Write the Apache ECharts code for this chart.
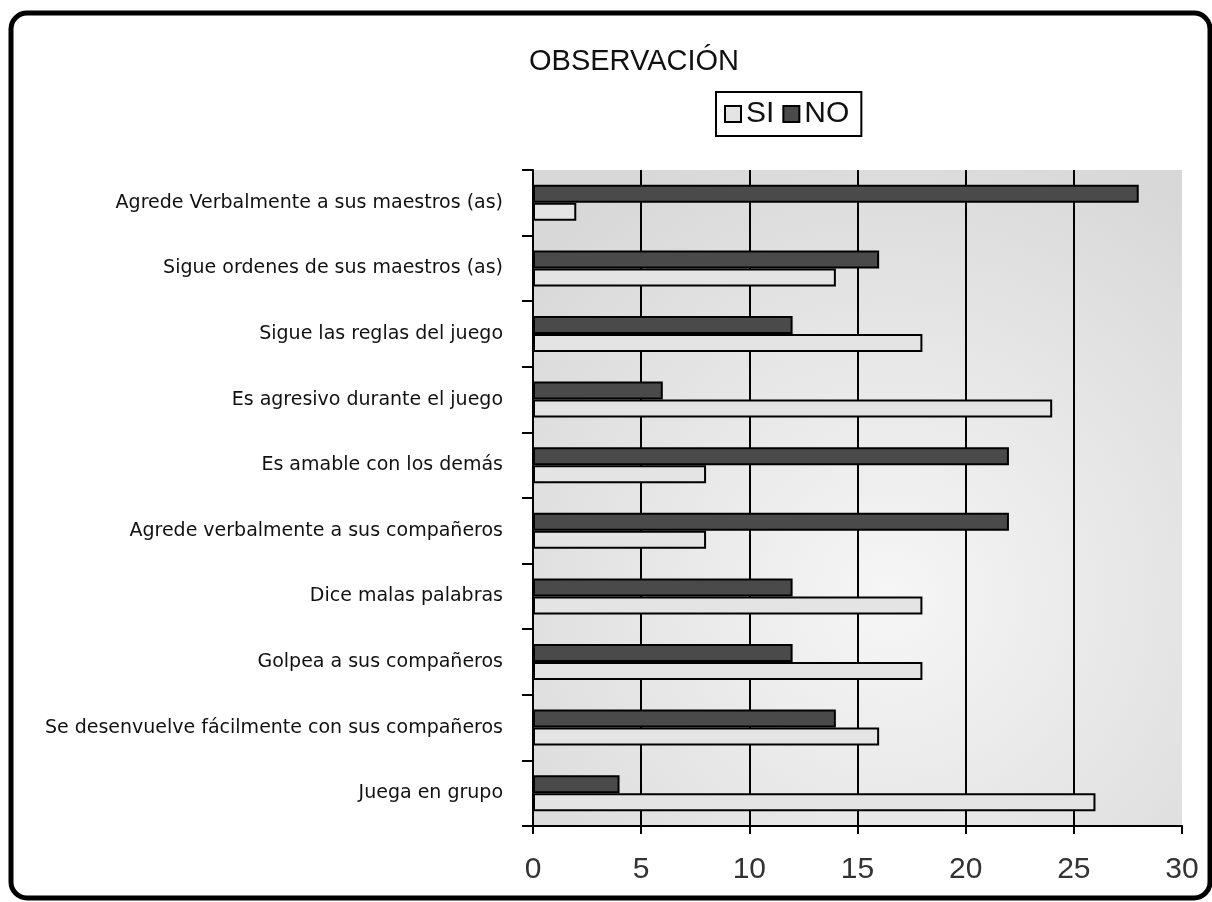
<!DOCTYPE html>
<html>
<head>
<meta charset="utf-8">
<title>OBSERVACIÓN</title>
<script src="https://cdn.jsdelivr.net/npm/echarts@6/dist/echarts.min.js"></script>
<style>
  html, body { margin: 0; padding: 0; background: #fff; }
  #chart { width: 1212px; height: 902px; }
</style>
</head>
<body>
<div id="chart"></div>
<script>
// categorias de abajo hacia arriba (como en el grafico original)
const categorias = [
  'Juega en grupo',
  'Se desenvuelve fácilmente con sus compañeros',
  'Golpea a sus compañeros',
  'Dice malas palabras',
  'Agrede verbalmente a sus compañeros',
  'Es amable con los demás',
  'Es agresivo durante el juego',
  'Sigue las reglas del juego',
  'Sigue ordenes de sus maestros (as)',
  'Agrede Verbalmente a sus maestros (as)'
]
const valoresSI = [26, 16, 18, 18, 8, 8, 24, 18, 14, 2]
const valoresNO = [4, 14, 12, 12, 22, 22, 6, 12, 16, 28]
const ticksX = [0, 5, 10, 15, 20, 25, 30]

const fuente = "'Liberation Sans', Arial, sans-serif"

const chart = echarts.init(document.getElementById('chart'))

const option = {
  backgroundColor: '#fff',
  animation: false,
  // marco redondeado exterior
  graphic: [
    {
      type: 'rect',
      shape: { x: 11, y: 13, width: 1199, height: 885, r: 16 },
      style: { fill: 'none', stroke: '#000', lineWidth: 5 },
      z: 100
    }
  ],
  title: {
    text: 'OBSERVACIÓN',
    left: 529,
    top: 47,
    padding: 0,
    textStyle: { fontFamily: fuente, fontSize: 29, fontWeight: 'normal', color: '#111' }
  },
  legend: {
    data: ['SI', 'NO'],
    left: 716,
    top: 92,
    padding: [7, 12, 7, 8],
    itemGap: 8,
    itemWidth: 16,
    itemHeight: 16,
    borderColor: '#000',
    borderWidth: 2,
    icon: 'rect',
    textStyle: { fontFamily: fuente, fontSize: 30, color: '#111' }
  },
  grid: {
    left: 533,
    right: 30,
    top: 170,
    bottom: 76,
    show: true,
    borderWidth: 0,
    backgroundColor: {
      type: 'radial', x: 0.55, y: 0.65, r: 0.75,
      colorStops: [
        { offset: 0, color: '#f6f6f6' },
        { offset: 1, color: '#d8d8d8' }
      ]
    }
  },
  xAxis: {
    type: 'value',
    min: ticksX[0],
    max: ticksX[ticksX.length - 1],
    interval: 5,
    axisLine: { show: true, lineStyle: { color: '#000', width: 2 } },
    axisTick: { show: true, length: 8, lineStyle: { color: '#000', width: 2 } },
    axisLabel: { fontFamily: fuente, fontSize: 30, color: '#333', margin: 29 },
    splitLine: {
      show: true,
      showMinLine: false,
      showMaxLine: false,
      lineStyle: { color: '#000', width: 2 }
    }
  },
  yAxis: {
    type: 'category',
    data: categorias,
    axisLine: { show: true, lineStyle: { color: '#000', width: 2 } },
    axisTick: { show: true, length: 11, lineStyle: { color: '#000', width: 2 } },
    axisLabel: { fontFamily: "'DejaVu Sans', sans-serif", fontSize: 19, color: '#111', margin: 30 },
    splitLine: { show: false }
  },
  // NO va primero para quedar arriba dentro de cada categoria
  series: [
    {
      name: 'NO',
      type: 'bar',
      data: valoresNO,
      barWidth: 18,
      barGap: '0%',
      itemStyle: { color: '#4a4a4a', borderColor: '#000', borderWidth: 2 }
    },
    {
      name: 'SI',
      type: 'bar',
      data: valoresSI,
      barWidth: 18,
      barGap: '0%',
      itemStyle: { color: '#e4e4e4', borderColor: '#000', borderWidth: 2 }
    }
  ]
}

chart.setOption(option)
</script>
</body>
</html>
